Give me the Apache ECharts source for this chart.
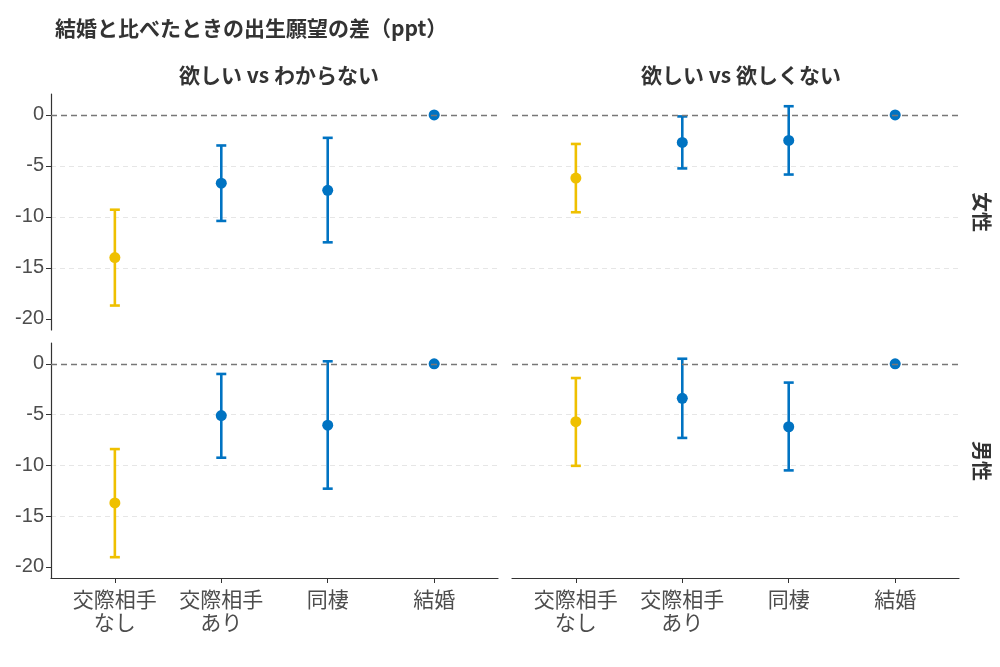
<!DOCTYPE html>
<html>
<head>
<meta charset="utf-8">
<style>
  html, body { margin: 0; padding: 0; background: #fff; }
  #chart { width: 1000px; height: 667px; }
</style>
<script src="https://cdn.jsdelivr.net/npm/echarts@6/dist/echarts.min.js"></script>
</head>
<body>
<div id="chart"></div>
<script>
// カテゴリと目盛り
var categories = ['交際相手\nなし', '交際相手\nあり', '同棲', '結婚'];
var yTicks = [-20, -15, -10, -5, 0];
var highlight = [true, false, false, false];

// 女性・欲しい vs わからない
var fUnsureEst = [-14.0, -6.7, -7.4, 0];
var fUnsureLow = [-18.7, -10.4, -12.5, 0];
var fUnsureHigh = [-9.3, -3.0, -2.25, 0];
// 女性・欲しい vs 欲しくない
var fNoEst = [-6.2, -2.7, -2.5, 0];
var fNoLow = [-9.55, -5.25, -5.85, 0];
var fNoHigh = [-2.85, -0.15, 0.85, 0];
// 男性・欲しい vs わからない
var mUnsureEst = [-13.7, -5.1, -6.05, 0];
var mUnsureLow = [-19.05, -9.25, -12.3, 0];
var mUnsureHigh = [-8.4, -1.0, 0.25, 0];
// 男性・欲しい vs 欲しくない
var mNoEst = [-5.7, -3.4, -6.2, 0];
var mNoLow = [-10.05, -7.3, -10.5, 0];
var mNoHigh = [-1.4, 0.5, -1.85, 0];

var panelEst = [fUnsureEst, fNoEst, mUnsureEst, mNoEst];
var panelLow = [fUnsureLow, fNoLow, mUnsureLow, mNoLow];
var panelHigh = [fUnsureHigh, fNoHigh, mUnsureHigh, mNoHigh];

var BLUE = '#0073C2', YELLOW = '#EFC000';
var FONT = '"Noto Sans CJK JP", "Noto Sans", sans-serif';

var chart = echarts.init(document.getElementById('chart'));

var grids = [
  { left: 51, top: 94, width: 447, height: 236 },
  { left: 512, top: 94, width: 447, height: 236 },
  { left: 51, top: 343, width: 447, height: 235 },
  { left: 512, top: 343, width: 447, height: 235 }
];

var xAxes = [], yAxes = [], series = [];
grids.forEach(function (g, i) {
  var bottom = i >= 2, left = i % 2 === 0;
  xAxes.push({
    type: 'value', gridIndex: i, min: -0.6, max: 3.6,
    splitLine: { show: false },
    axisLine: { show: bottom, onZero: false, lineStyle: { color: '#333', width: 1.2 } },
    axisTick: { show: bottom, customValues: [0, 1, 2, 3], length: 5, lineStyle: { color: '#333' } },
    axisLabel: {
      show: bottom, customValues: [0, 1, 2, 3], margin: 10,
      formatter: function (v) { return categories[Math.round(v)]; },
      fontFamily: FONT, fontSize: 21, lineHeight: 23, color: '#4d4d4d'
    }
  });
  yAxes.push({
    type: 'value', gridIndex: i, min: -21.1, max: 2.05,
    axisLine: { show: left, onZero: false, lineStyle: { color: '#333', width: 1.2 } },
    axisTick: { show: left, customValues: yTicks, length: 5, lineStyle: { color: '#333' } },
    axisLabel: {
      show: left, customValues: yTicks, margin: 7,
      fontFamily: '"Liberation Sans", Arial, sans-serif', fontSize: 20, color: '#4d4d4d'
    },
    splitLine: {
      show: true, showMinLine: false, showMaxLine: false,
      lineStyle: { color: '#e6e6e6', type: [5, 4], width: 1 }
    }
  });

  var est = panelEst[i], low = panelLow[i], high = panelHigh[i];
  series.push({
    type: 'custom', xAxisIndex: i, yAxisIndex: i, z: 3,
    data: categories.map(function (c, k) { return [k, low[k], high[k], highlight[k] ? 1 : 0]; }),
    renderItem: function (params, api) {
      var x = api.value(0);
      var lo = api.coord([x, api.value(1)]);
      var hi = api.coord([x, api.value(2)]);
      var color = api.value(3) ? YELLOW : BLUE;
      var w = 5;
      var style = { stroke: color, lineWidth: 2.6 };
      return {
        type: 'group',
        children: [
          { type: 'line', shape: { x1: lo[0], y1: lo[1], x2: hi[0], y2: hi[1] }, style: style },
          { type: 'line', shape: { x1: lo[0] - w, y1: lo[1], x2: lo[0] + w, y2: lo[1] }, style: style },
          { type: 'line', shape: { x1: hi[0] - w, y1: hi[1], x2: hi[0] + w, y2: hi[1] }, style: style }
        ]
      };
    }
  });
  series.push({
    type: 'scatter', xAxisIndex: i, yAxisIndex: i, z: 4,
    symbolSize: 11,
    data: est.map(function (v, k) {
      return { value: [k, v], itemStyle: { color: highlight[k] ? YELLOW : BLUE, opacity: 1 } };
    }),
    markLine: {
      silent: true, symbol: 'none', animation: false,
      label: { show: false },
      lineStyle: { color: '#777', type: [6, 4], width: 1.3 },
      data: [{ yAxis: 0 }]
    }
  });
});

var option = {
  animation: false,
  title: [
    { text: '結婚と比べたときの出生願望の差（ppt）', left: 50, top: 13,
      textStyle: { fontFamily: FONT, fontSize: 21, fontWeight: 'bold', color: '#333' } },
    { text: '欲しい vs わからない', left: 274, top: 60, textAlign: 'center',
      textStyle: { fontFamily: FONT, fontSize: 21, fontWeight: 'bold', color: '#333' } },
    { text: '欲しい vs 欲しくない', left: 736, top: 60, textAlign: 'center',
      textStyle: { fontFamily: FONT, fontSize: 21, fontWeight: 'bold', color: '#333' } }
  ],
  graphic: [
    { type: 'text', x: 982, y: 212, rotation: -Math.PI / 2,
      style: { text: '女性', font: 'bold 20px ' + FONT, fill: '#333', align: 'center', verticalAlign: 'middle' } },
    { type: 'text', x: 982, y: 461, rotation: -Math.PI / 2,
      style: { text: '男性', font: 'bold 20px ' + FONT, fill: '#333', align: 'center', verticalAlign: 'middle' } }
  ],
  grid: grids,
  xAxis: xAxes,
  yAxis: yAxes,
  series: series
};

chart.setOption(option);
</script>
</body>
</html>
